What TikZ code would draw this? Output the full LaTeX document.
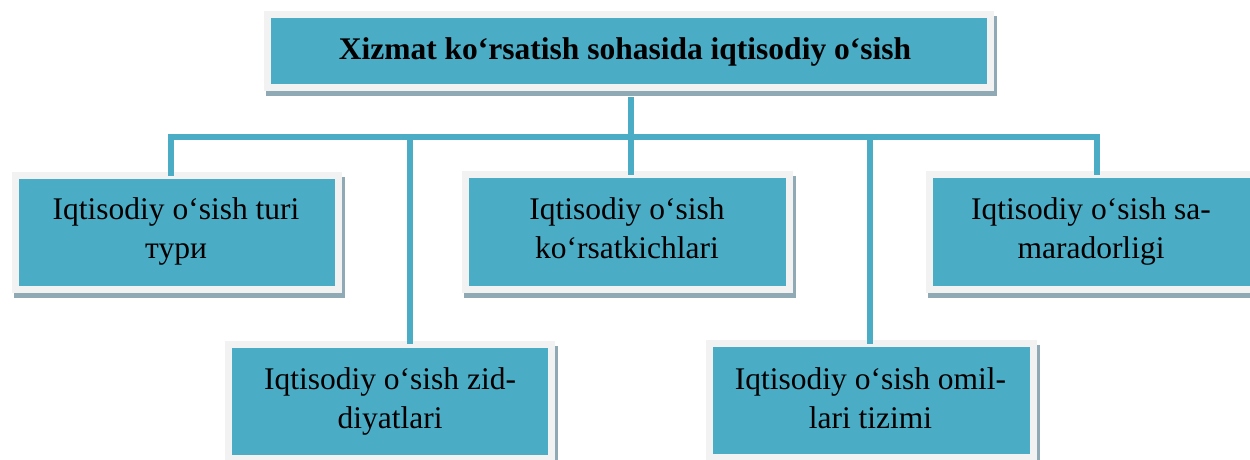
\documentclass[tikz,border=0pt]{standalone}
\usepackage{fontspec}
\setmainfont{Liberation Serif}
\definecolor{tealcol}{HTML}{4BACC6}
\definecolor{framecol}{HTML}{F2F2F2}
\definecolor{shadowcol}{HTML}{90AAB5}
\pgfdeclarelayer{bglayer}
\pgfdeclarelayer{shadowlayer}
\pgfsetlayers{bglayer,shadowlayer,main}
\begin{document}
\begin{tikzpicture}[x=1pt,y=-1pt,
  box/.style={draw=framecol, line width=7pt, fill=tealcol, inner sep=0pt, outer sep=0pt,
              minimum width=323pt, minimum height=114pt},
  conn/.style={draw=tealcol, line width=5.5pt, line join=miter},
  txt/.style={font=\fontsize{31.5}{39}\selectfont, align=center, anchor=base, inner sep=0pt},
  ttl/.style={font=\fontsize{31.5}{39}\selectfont\bfseries, anchor=base, inner sep=0pt}]
\begin{pgfonlayer}{bglayer}
\fill[white] (0,0) rectangle (1250,459);
\end{pgfonlayer}
\useasboundingbox (0,0) rectangle (1250,459);
% boxes
\node[box, minimum width=723pt, minimum height=73pt] (top) at (629,51) {};
\node[box] (b1) at (177,232.5) {};
\node[box, minimum width=324pt, minimum height=115pt] (b3) at (627.5,232) {};
\node[box, minimum width=324pt, minimum height=115pt] (b5) at (1091.5,232) {};
\node[box] (b2) at (390,401) {};
\node[box, minimum width=324pt] (b4) at (871.5,400.5) {};
% shadows
\begin{pgfonlayer}{shadowlayer}
\foreach \n in {top,b1,b2,b3,b4,b5}
  \fill[shadowcol] ([xshift=-2pt,yshift=-1.5pt]\n.north west) rectangle ([xshift=6.5pt,yshift=-8.5pt]\n.south east);
\end{pgfonlayer}
% connectors
\coordinate (j1) at (171,137);
\coordinate (j2) at (410,137);
\coordinate (j3) at (631,137);
\coordinate (j4) at (870,137);
\coordinate (j5) at (1097,137);
\path ([yshift=-9.5pt]top.south) coordinate (ts);
\draw[conn] (ts -| j3) -- (j3);
\draw[conn] (j1 |- b1.north) -- (j1) -- (j5) -- (j5 |- b5.north);
\draw[conn] (j2) -- (j2 |- b2.north);
\draw[conn] (j3) -- (j3 |- b3.north);
\draw[conn] (j4) -- (j4 |- b4.north);
% texts
\node[ttl] (t0) at (625,59) {Xizmat ko‘rsatish sohasida iqtisodiy o‘sish};
\node[txt] (t1) at (176,258) {Iqtisodiy o‘sish turi\\тури};
\node[txt] (t3) at (627,258) {Iqtisodiy o‘sish\\ko‘rsatkichlari};
\node[txt] (t5) at (1091,258) {Iqtisodiy o‘sish sa-\\maradorligi};
\node[txt] (t2) at (390,428) {Iqtisodiy o‘sish zid-\\diyatlari};
\node[txt] (t4) at (870.5,428) {Iqtisodiy o‘sish omil-\\lari tizimi};
\end{tikzpicture}
\end{document}
